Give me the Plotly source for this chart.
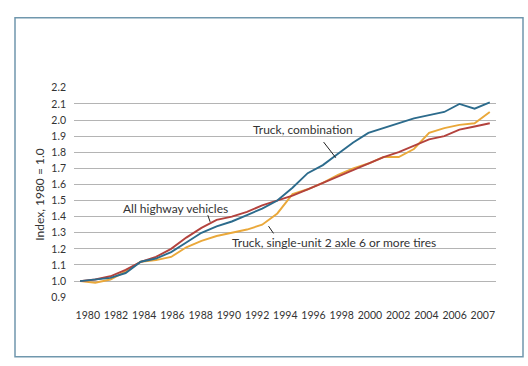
import numpy as np
import plotly.graph_objects as go

years = list(range(1980, 2008))
truck_combination = [1.00, 1.01, 1.02, 1.05, 1.12, 1.14, 1.18, 1.24, 1.30, 1.34,
                     1.37, 1.41, 1.45, 1.50, 1.58, 1.67, 1.72, 1.79, 1.86, 1.92,
                     1.95, 1.98, 2.01, 2.03, 2.05, 2.10, 2.07, 2.11]
all_highway = [1.00, 1.01, 1.03, 1.07, 1.12, 1.15, 1.20, 1.27, 1.33, 1.38,
               1.40, 1.43, 1.47, 1.50, 1.53, 1.57, 1.61, 1.65, 1.69, 1.73,
               1.77, 1.80, 1.84, 1.88, 1.90, 1.94, 1.96, 1.98]
truck_single_unit = [1.00, 0.99, 1.01, 1.06, 1.12, 1.13, 1.15, 1.21, 1.25, 1.28,
                     1.30, 1.32, 1.35, 1.42, 1.54, 1.57, 1.61, 1.66, 1.70, 1.73,
                     1.77, 1.77, 1.82, 1.92, 1.95, 1.97, 1.98, 2.05]
x_tick_labels = ["1980", "1982", "1984", "1986", "1988", "1990", "1992", "1994",
                 "1996", "1998", "2000", "2002", "2004", "2006", "2007"]
y_tick_values = [0.9, 1.0, 1.1, 1.2, 1.3, 1.4, 1.5, 1.6, 1.7, 1.8, 1.9, 2.0, 2.1, 2.2]

BLUE = "#2c6b8c"
RED = "#b3423d"
ORANGE = "#eaa83a"
TXT = "#333333"
FONT = "Lato"

fig = go.Figure()
for vals, col in [(truck_single_unit, ORANGE), (all_highway, RED), (truck_combination, BLUE)]:
    fig.add_trace(go.Scatter(x=years, y=vals, mode="lines",
                             line=dict(color=col, width=1.9), hoverinfo="skip",
                             showlegend=False))

tick_pos = np.linspace(years[0] + 0.51, years[-1] - 0.46, len(x_tick_labels))

L, R, T, B = 74, 32, 86.5, 68
W, H = 528, 366
pw = W - L - R
ph = H - T - B

fig.update_layout(
    width=W, height=H,
    margin=dict(l=L, r=R, t=T, b=B, pad=0),
    paper_bgcolor="white", plot_bgcolor="white",
    font=dict(family=FONT, size=11, color=TXT),
    xaxis=dict(range=[1979.6, 2007.41], tickmode="array", tickvals=tick_pos,
               ticktext=x_tick_labels, showgrid=False, zeroline=False,
               showline=False, ticks="", ticklabelstandoff=9,
               tickfont=dict(family=FONT, size=10.5, color=TXT)),
    yaxis=dict(range=[0.895, 2.205], tickmode="array", tickvals=y_tick_values,
               ticktext=[f"{v:.1f}" for v in y_tick_values],
               showgrid=True, gridcolor="#b4b4b4", gridwidth=1.3,
               zeroline=False, showline=False, ticks="", ticklabelstandoff=7,
               tickfont=dict(family=FONT, size=10.5, color=TXT)),
)

def px_x(p):
    return (p - L) / pw

def px_y(p):
    return (H - B - p) / ph

# outer frame
fig.add_shape(type="rect", xref="paper", yref="paper",
              x0=px_x(15), x1=px_x(523), y0=px_y(357), y1=px_y(17),
              line=dict(color="#7097ad", width=1.5), layer="below")

# y-axis title
fig.add_annotation(text="Index, 1980 = 1.0", xref="paper", yref="paper",
                   x=px_x(40), y=px_y(194.5), xanchor="center", yanchor="middle",
                   textangle=-90, showarrow=False,
                   font=dict(family=FONT, size=12, color=TXT))

labels = [
    ("Truck, combination", 1994.7, 1.94, (1996.05, 1.863, 1996.85, 1.766)),
    ("All highway vehicles", 1986.3, 1.451, (1988.42, 1.409, 1988.57, 1.368)),
    ("Truck, single-unit 2 axle 6 or more tires", 1996.76, 1.24,
     (1992.42, 1.341, 1992.75, 1.296)),
]
for text, x, y, (x0, y0, x1, y1) in labels:
    fig.add_annotation(text=text, x=x, y=y, showarrow=False,
                       xanchor="center", yanchor="middle",
                       font=dict(family=FONT, size=12, color=TXT))
    fig.add_shape(type="line", x0=x0, y0=y0, x1=x1, y1=y1,
                  line=dict(color="#222222", width=1))

fig.write_html("out.html", config={"displayModeBar": False},
               post_script="document.body.style.margin='0';document.body.style.overflow='hidden';")
